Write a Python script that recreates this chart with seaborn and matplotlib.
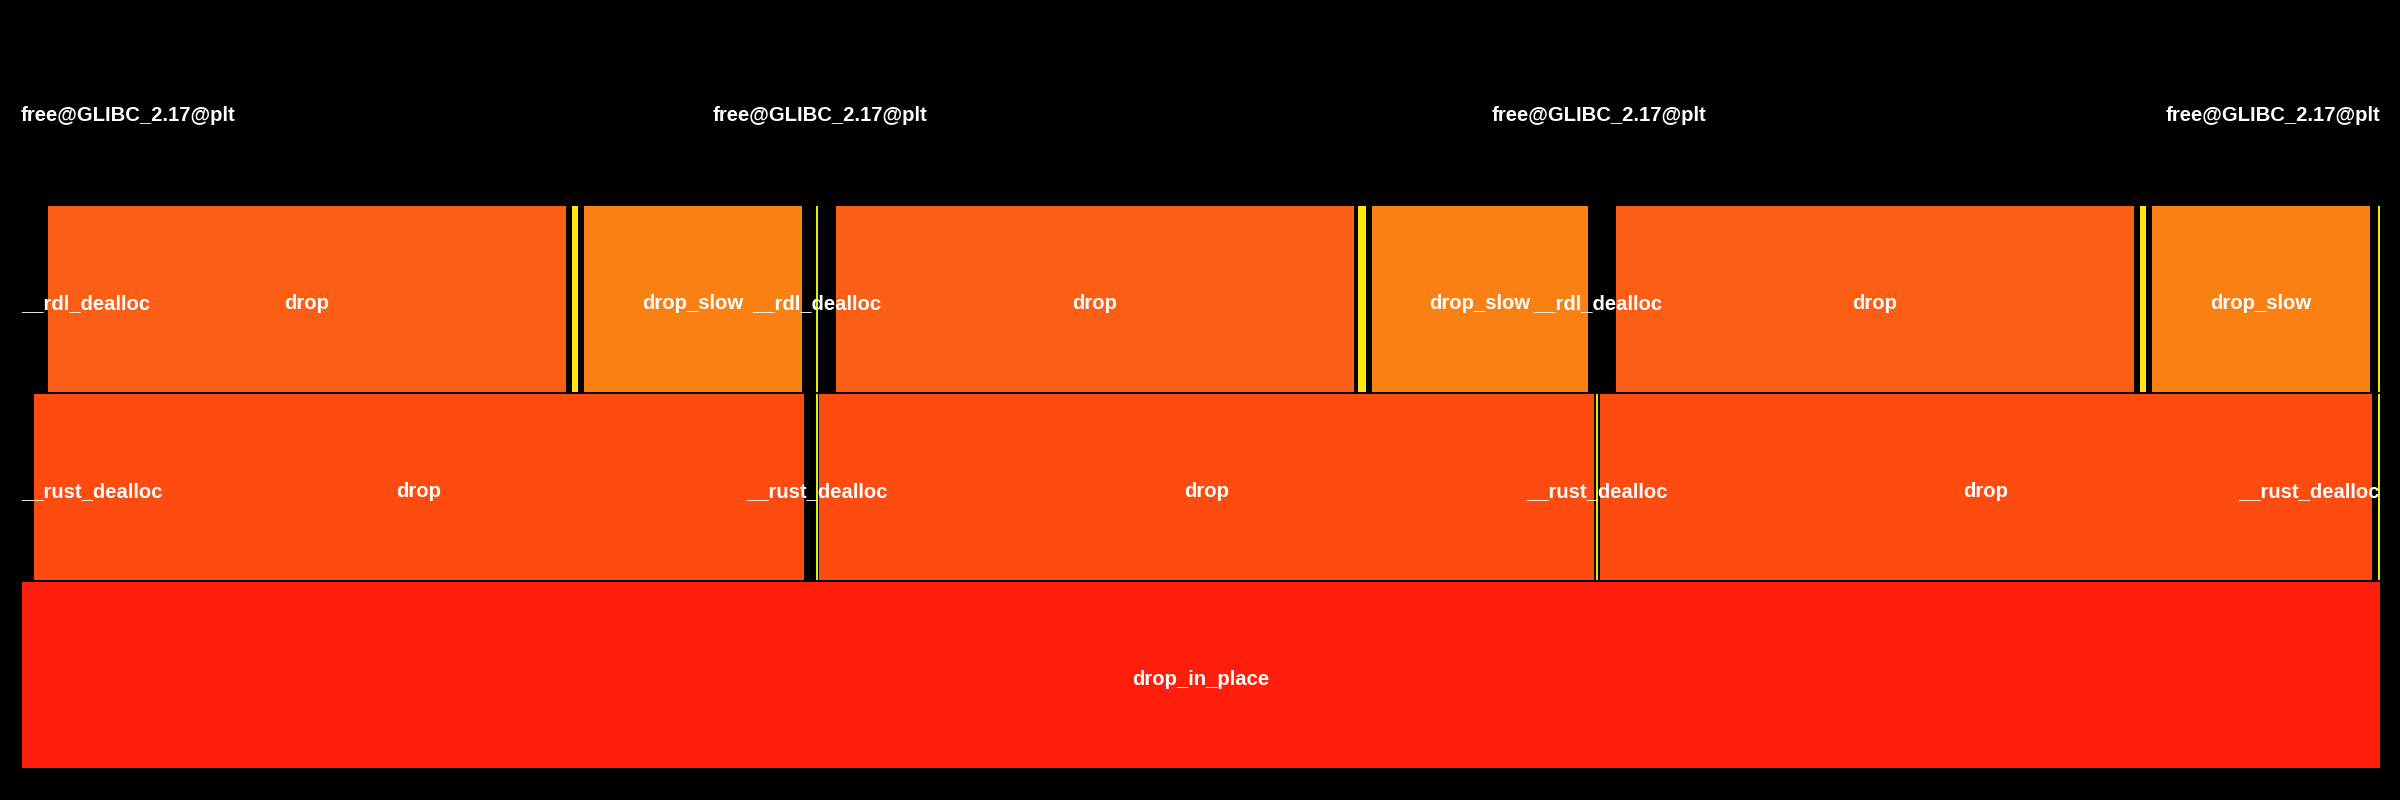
import matplotlib
matplotlib.use("Agg")
import matplotlib.pyplot as plt
import seaborn as sns
import pandas as pd

# flame graph frames (x in sample positions, level = stack depth)
names = [
    "drop_in_place",
    "__rust_dealloc", "drop", "__rust_dealloc", "drop", "__rust_dealloc", "drop", "__rust_dealloc",
    "__rdl_dealloc", "drop", "", "drop_slow", "__rdl_dealloc", "drop", "", "drop_slow",
    "__rdl_dealloc", "drop", "", "drop_slow", "",
    "free@GLIBC_2.17@plt", "free@GLIBC_2.17@plt", "free@GLIBC_2.17@plt", "free@GLIBC_2.17@plt",
]
levels = [0,
          1, 1, 1, 1, 1, 1, 1,
          2, 2, 2, 2, 2, 2, 2, 2, 2, 2, 2, 2, 2,
          3, 3, 3, 3]
starts = [22,
          24, 34, 816, 819, 1596, 1600, 2378,
          26, 48, 572, 584, 816, 836, 1358, 1372, 1598, 1616, 2140, 2152, 2378,
          26, 820, 1599, 2379]
widths = [2358,
          0, 770, 2, 775, 2, 772, 2,
          0, 518, 6, 218, 2, 518, 8, 216, 0, 518, 6, 218, 2,
          0, 0, 0, 0]
colors = ["#FF1E0A",
          "#FE4B10", "#FE4B10", "#E2F000", "#FE4B10", "#E2F000", "#FE4B10", "#E2F000",
          "#FC5E16", "#FC5E16", "#FFE60F", "#FB8014", "#E2F000", "#FC5E16", "#FFE60F", "#FB8014",
          "#FC5E16", "#FC5E16", "#FFE60F", "#FB8014", "#E2F000",
          "#000000", "#000000", "#000000", "#000000"]

df = pd.DataFrame({"name": names, "level": levels, "start": starts,
                   "width": widths, "color": colors})

sns.set_theme(style="dark", rc={"axes.facecolor": "black", "figure.facecolor": "black"})
plt.rcParams["font.family"] = ["Liberation Sans", "DejaVu Sans"]

fig = plt.figure(figsize=(24, 8), dpi=100)
ax = fig.add_axes([0, 0, 1, 1])
ax.set_facecolor("black")

ax.barh(df["level"], df["width"], left=df["start"], height=0.99,
        align="edge", color=df["color"], linewidth=0)

xmin, xmax = 22, 2380
ax.set_xlim(0, 2400)
ax.set_ylim(-32 / 188, 768 / 188)
ax.axis("off")

fig.canvas.draw()
renderer = fig.canvas.get_renderer()
for _, r in df.iterrows():
    if not r["name"]:
        continue
    cx = r["start"] + r["width"] / 2
    t = ax.text(cx, r["level"] + 0.5 - 0.057, r["name"], color="white", fontsize=14.6,
                fontweight="bold", ha="center", va="baseline")
    bb = t.get_window_extent(renderer)
    x0 = ax.transData.inverted().transform((bb.x0, 0))[0]
    x1 = ax.transData.inverted().transform((bb.x1, 0))[0]
    if x0 < xmin:
        t.set_x(cx + (xmin - x0) - 1)
    elif x1 > xmax:
        t.set_x(cx - (x1 - xmax))

fig.savefig("out.png", dpi=100, facecolor="black")
